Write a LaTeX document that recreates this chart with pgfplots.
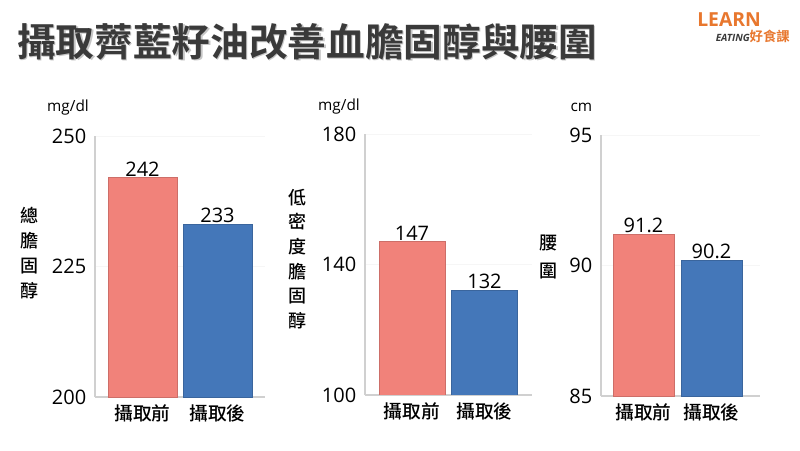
\documentclass[border=0pt]{standalone}
\usepackage{fontspec}
\usepackage{pgfplots}
\pgfplotsset{compat=1.18}
\setmainfont{Open Sans}
\newfontfamily\cjk{Noto Sans CJK TC Medium}
\newfontfamily\cjkb{Noto Sans CJK TC Bold}
\definecolor{barpink}{HTML}{F1827A}
\definecolor{barblue}{HTML}{4477B9}
\definecolor{axgray}{HTML}{D0D0D0}
\definecolor{logoorange}{HTML}{E8772E}
\definecolor{titlegray}{HTML}{3A3A3A}

\pgfplotsset{
  panel/.style={
    scale only axis, anchor=north west,
    height=195.75pt,
    ybar,
    axis x line*=bottom, axis y line*=left,
    axis line style={axgray, line width=0.8pt},
    ymajorgrids, grid style={gray!7},
    major tick length=0pt,
    xtick={0,1}, xticklabels={攝取前,攝取後},
    /pgf/number format/assume math mode=true,
    tick label style={font=\fontsize{15}{15}\selectfont},
    xticklabel style={font=\cjk\fontsize{14}{14}\selectfont, yshift=-2pt},
    yticklabel style={xshift=-3pt},
    nodes near coords,
    nodes near coords style={font=\fontsize{15}{15}\selectfont, text=black, inner sep=1pt, anchor=south},
    clip=true,
  },
}

\begin{document}
\begin{tikzpicture}
\useasboundingbox (0,0) rectangle (600pt,-337.5pt);
\fill[white] (0,0) rectangle (600pt,-337.5pt);

% title with light shadow
\node[anchor=west, text=gray!45, font=\cjkb\fontsize{29}{29}\selectfont, inner sep=0pt] at (13.6pt,-32.1pt) {攝取薺藍籽油改善血膽固醇與腰圍};
\node[anchor=west, text=titlegray, font=\cjkb\fontsize{29}{29}\selectfont, inner sep=0pt] at (12.75pt,-31.2pt) {攝取薺藍籽油改善血膽固醇與腰圍};

% logo
\node[anchor=west, text=logoorange, font=\bfseries\fontsize{14.5}{14.5}\selectfont, inner sep=0pt] at (522.75pt,-15pt) {LEARN};
\node[anchor=east, inner sep=0pt] at (592.5pt,-27pt) {{\color{titlegray}\bfseries\itshape\fontsize{7.5}{7.5}\selectfont EATING}{\cjkb\color{logoorange}\fontsize{10}{10}\selectfont 好食課}};

% panel 1
\begin{axis}[panel, at={(71.25pt,-102pt)}, width=127.5pt, bar width=51.75pt,
  xmin=-0.633, xmax=1.633, ymin=200, ymax=250, ytick={200,225,250}]
\addplot[bar shift=0pt, fill=barpink, draw=barpink!85!black] coordinates {(0,242)};
\addplot[bar shift=0pt, fill=barblue, draw=barblue!85!black] coordinates {(1,233)};
\end{axis}

% panel 2
\begin{axis}[panel, at={(273.75pt,-100.5pt)}, width=125.25pt, bar width=49.5pt,
  xmin=-0.648, xmax=1.655, ymin=100, ymax=180, ytick={100,140,180}]
\addplot[bar shift=0pt, fill=barpink, draw=barpink!85!black] coordinates {(0,147)};
\addplot[bar shift=0pt, fill=barblue, draw=barblue!85!black] coordinates {(1,132)};
\end{axis}

% panel 3
\begin{axis}[panel, at={(450.75pt,-101.25pt)}, width=119.25pt, bar width=45.75pt,
  xmin=-0.625, xmax=1.713, ymin=85, ymax=95, ytick={85,90,95}]
\addplot[bar shift=0pt, fill=barpink, draw=barpink!85!black] coordinates {(0,91.2)};
\addplot[bar shift=0pt, fill=barblue, draw=barblue!85!black] coordinates {(1,90.2)};
\end{axis}

% units
\node[font=\fontsize{11.5}{11.5}\selectfont] at (51pt,-81pt) {mg/dl};
\node[font=\fontsize{11.5}{11.5}\selectfont] at (254.25pt,-80.25pt) {mg/dl};
\node[font=\fontsize{11.5}{11.5}\selectfont] at (436pt,-80.25pt) {cm};

% vertical y labels
\node[font=\cjk\fontsize{13.5}{18.75}\selectfont, align=center] at (21.75pt,-189.75pt) {總\\膽\\固\\醇};
\node[font=\cjk\fontsize{13.5}{18.5}\selectfont, align=center] at (222.75pt,-194.25pt) {低\\密\\度\\膽\\固\\醇};
\node[font=\cjk\fontsize{13.5}{21}\selectfont, align=center] at (411pt,-193pt) {腰\\圍};
\end{tikzpicture}
\end{document}
